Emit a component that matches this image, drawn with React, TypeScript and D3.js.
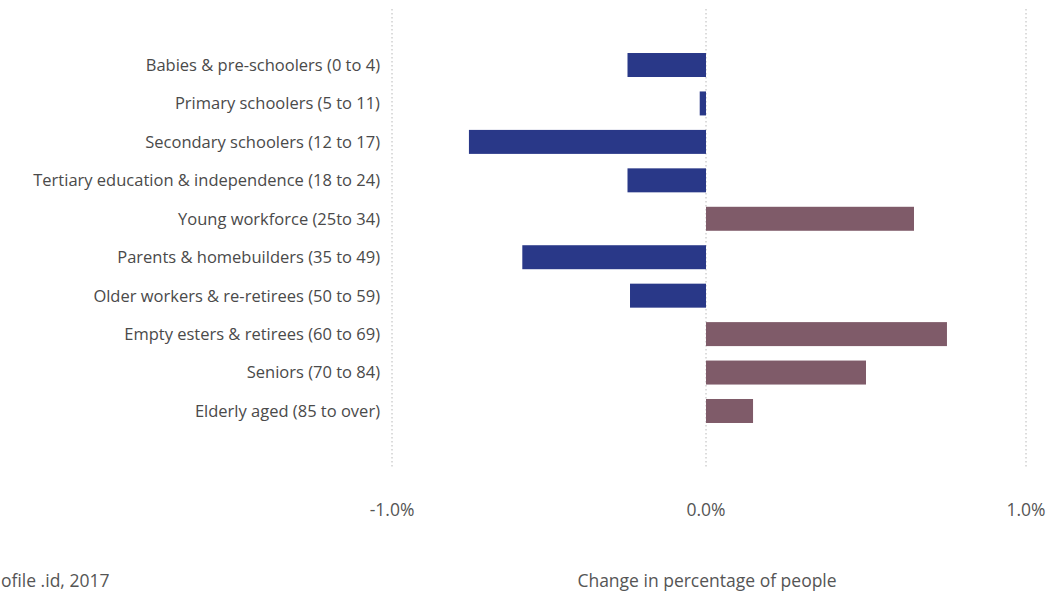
import * as React from "react";
import * as d3 from "d3";

const categories = [
  "Babies & pre-schoolers (0 to 4)",
  "Primary schoolers (5 to 11)",
  "Secondary schoolers (12 to 17)",
  "Tertiary education & independence (18 to 24)",
  "Young workforce (25to 34)",
  "Parents & homebuilders (35 to 49)",
  "Older workers & re-retirees (50 to 59)",
  "Empty esters & retirees (60 to 69)",
  "Seniors (70 to 84)",
  "Elderly aged (85 to over)",
];
const changes = [-0.25, -0.02, -0.755, -0.25, 0.65, -0.585, -0.242, 0.753, 0.5, 0.147];
const ticks = [-1, 0, 1];
const tickLabels = ["-1.0%", "0.0%", "1.0%"];
const axisTitle = "Change in percentage of people";
// the source note is cropped at the left edge in the original
const sourceText = "ofile .id, 2017";

const W = 1062;
const H = 592;
const FONT = "'Open Sans', 'Noto Sans', sans-serif";

export default function App() {
  const x = d3.scaleLinear().domain([-1, 0, 1]).range([392, 706, 1026]);
  const y = d3
    .scaleBand<string>()
    .domain(categories)
    .range([9, 468])
    .paddingInner(0.376)
    .paddingOuter(1.158);

  return (
    <svg
      width={W}
      height={H}
      style={{ position: "absolute", left: 0, top: 0, background: "#fff" }}
      fontFamily={FONT}
    >
      {/* grid */}
      {ticks.map((t) => (
        <line
          key={"g" + t}
          x1={x(t)}
          x2={x(t)}
          y1={9}
          y2={468}
          stroke="#b8b8b8"
          strokeWidth={1}
          strokeDasharray="1.5,2.5"
        />
      ))}
      {/* bars */}
      {categories.map((c, i) => {
        const v = changes[i];
        return (
          <rect
            key={c}
            x={Math.min(x(0), x(v))}
            y={(y(c) as number) - 0.5}
            width={Math.abs(x(v) - x(0))}
            height={y.bandwidth()}
            fill={v < 0 ? "#293888" : "#7f5b69"}
          />
        );
      })}
      {/* category labels */}
      {categories.map((c) => (
        <text
          key={"l" + c}
          x={380}
          y={(y(c) as number) + y.bandwidth() / 2}
          dy="0.33em"
          textAnchor="end"
          fontSize={16.5}
          fill="#4a4a4a"
        >
          {c}
        </text>
      ))}
      {/* tick labels */}
      {ticks.map((t, i) => (
        <text
          key={"t" + t}
          x={x(t)}
          y={516}
          textAnchor="middle"
          fontSize={17.5}
          fill="#555"
        >
          {tickLabels[i]}
        </text>
      ))}
      <text x={707} y={587} textAnchor="middle" fontSize={17.5} fill="#555">
        {axisTitle}
      </text>
      <text x={1} y={587} fontSize={17.5} fill="#555">
        {sourceText}
      </text>
    </svg>
  );
}
